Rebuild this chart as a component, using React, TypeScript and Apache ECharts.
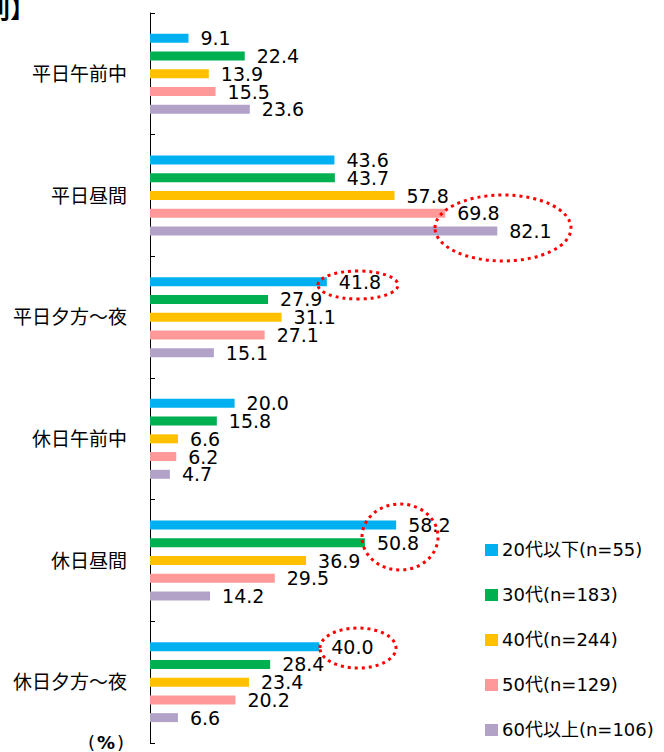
import React, { useEffect, useRef } from "react";
import * as echarts from "echarts";

const categories = ["平日午前中", "平日昼間", "平日夕方～夜", "休日午前中", "休日昼間", "休日夕方～夜"];
const seriesNames = ["20代以下(n=55)", "30代(n=183)", "40代(n=244)", "50代(n=129)", "60代以上(n=106)"];
const seriesColors = ["#00B0F0", "#00B050", "#FFC000", "#FF9999", "#B3A2C7"];
const age20 = [9.1, 43.6, 41.8, 20.0, 58.2, 40.0];
const age30 = [22.4, 43.7, 27.9, 15.8, 50.8, 28.4];
const age40 = [13.9, 57.8, 31.1, 6.6, 36.9, 23.4];
const age50 = [15.5, 69.8, 27.1, 6.2, 29.5, 20.2];
const age60 = [23.6, 82.1, 15.1, 4.7, 14.2, 6.6];
const seriesValues = [age20, age30, age40, age50, age60];

const FONT = "'DejaVu Sans', 'Noto Sans CJK JP', sans-serif";

export default function App() {
  const ref = useRef<HTMLDivElement>(null);
  useEffect(() => {
    if (!ref.current) return;
    const chart = echarts.init(ref.current, null, { renderer: "svg" });
    const dotted = { fill: "none", stroke: "#FF0000", lineWidth: 3, lineDash: [3, 4] };
    chart.setOption({
      animation: false,
      grid: { left: 150, top: 13, bottom: 9, right: 91, containLabel: false },
      xAxis: { type: "value", min: 0, max: 100, show: false },
      yAxis: {
        type: "category",
        data: categories,
        inverse: true,
        axisLine: { show: true, lineStyle: { color: "#000", width: 1 } },
        axisTick: { show: true, inside: true, length: 5, lineStyle: { color: "#000" } },
        axisLabel: { color: "#000", fontSize: 19, fontFamily: FONT, margin: 23 },
        splitLine: { show: false },
      },
      legend: {
        orient: "vertical",
        left: 485,
        top: 541,
        padding: 0,
        icon: "rect",
        itemWidth: 13,
        itemHeight: 12,
        itemGap: 27,
        textStyle: { fontSize: 18, fontFamily: FONT, color: "#000", padding: [0, 0, 0, -1] },
        data: seriesNames,
      },
      series: seriesNames.map((name, i) => ({
        name,
        type: "bar",
        data: seriesValues[i],
        barWidth: 9,
        barGap: "97%",
        itemStyle: { color: seriesColors[i] },
        label: {
          show: true,
          position: "right",
          distance: 12,
          fontSize: 19,
          fontFamily: FONT,
          color: "#000",
          formatter: (p: any) => Number(p.value).toFixed(1),
        },
      })),
      graphic: [
        { type: "text", left: -15, top: -6, style: { text: "別】", fontSize: 25, fontWeight: "bold", fontFamily: "'Noto Sans CJK JP', sans-serif", fill: "#000" } },
        {
          type: "text",
          left: 88,
          top: 733,
          style: {
            text: "{a|(}{b|%}{a|)}",
            rich: {
              a: { fontSize: 18, fontFamily: FONT, fill: "#000" },
              b: { fontSize: 18, fontFamily: FONT, fontWeight: "bold", fill: "#000", padding: [0, 2, 0, 2] },
            },
          },
        },
        { type: "ellipse", shape: { cx: 503, cy: 228, rx: 68, ry: 33 }, style: dotted, z: 100 },
        { type: "ellipse", shape: { cx: 358, cy: 285, rx: 40, ry: 14 }, style: dotted, z: 100 },
        { type: "ellipse", shape: { cx: 400, cy: 537, rx: 38, ry: 33 }, style: dotted, z: 100 },
        { type: "ellipse", shape: { cx: 358, cy: 648, rx: 38, ry: 20 }, style: dotted, z: 100 },
      ],
    });
    return () => chart.dispose();
  }, []);
  return <div ref={ref} style={{ position: "absolute", left: 0, top: 0, width: 664, height: 752 }} />;
}
